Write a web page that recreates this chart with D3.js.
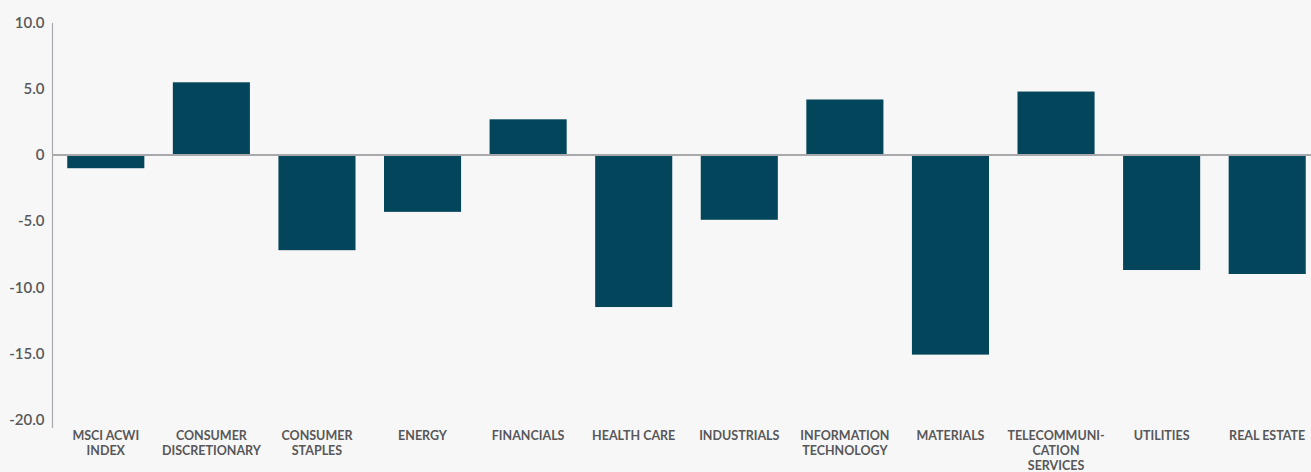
<!DOCTYPE html>
<html>
<head>
<meta charset="utf-8">
<script src="https://cdn.jsdelivr.net/npm/d3@7"></script>
<style>
  html, body { margin: 0; padding: 0; background: #f7f7f7; }
  svg { display: block; }
</style>
</head>
<body>
<svg id="chart" width="1311" height="472"></svg>
<script>
const categories = [
  ["MSCI ACWI", "INDEX"],
  ["CONSUMER", "DISCRETIONARY"],
  ["CONSUMER", "STAPLES"],
  ["ENERGY"],
  ["FINANCIALS"],
  ["HEALTH CARE"],
  ["INDUSTRIALS"],
  ["INFORMATION", "TECHNOLOGY"],
  ["MATERIALS"],
  ["TELECOMMUNI-", "CATION", "SERVICES"],
  ["UTILITIES"],
  ["REAL ESTATE"]
];
const values = [-1.0, 5.5, -7.2, -4.3, 2.7, -11.5, -4.9, 4.2, -15.1, 4.8, -8.7, -9.0];
const yTicks = [10, 5, 0, -5, -10, -15, -20];
const yTickLabels = ["10.0", "5.0", "0", "-5.0", "-10.0", "-15.0", "-20.0"];

const svg = d3.select("#chart");
const W = 1311, H = 472;
svg.append("rect").attr("width", W).attr("height", H).attr("fill", "#f7f7f7");

const keys = categories.map((c, i) => "c" + i);
const x = d3.scaleBand().domain(keys).range([53, 1320]).paddingInner(0.27).paddingOuter(0.135);
const y = d3.scaleLinear().domain([-20, 10]).range([419.4, 22.8]);

const barColor = "#03455a";
const axisColor = "#a9a9ad";
const textColor = "#58585a";

// bars
svg.append("g").selectAll("rect").data(values).join("rect")
  .attr("x", (d, i) => x(keys[i]))
  .attr("width", x.bandwidth())
  .attr("y", d => Math.min(y(d), y(0)))
  .attr("height", d => Math.abs(y(d) - y(0)))
  .attr("fill", barColor);

// zero line
svg.append("line")
  .attr("x1", 53).attr("x2", W)
  .attr("y1", y(0)).attr("y2", y(0))
  .attr("stroke", axisColor).attr("stroke-width", 2);

// y axis
const yAxis = d3.axisLeft(y).tickValues(yTicks).tickSize(0).tickPadding(8)
  .tickFormat((d, i) => yTickLabels[i]);
const gy = svg.append("g").attr("transform", "translate(52.5,0)").call(yAxis);
gy.select(".domain").remove();
gy.selectAll("text")
  .attr("fill", textColor)
  .attr("font-family", "Lato, 'Open Sans', sans-serif")
  .attr("font-size", 15)
  .attr("font-weight", 600);
svg.append("line")
  .attr("x1", 52.5).attr("x2", 52.5)
  .attr("y1", 23).attr("y2", 428)
  .attr("stroke", axisColor).attr("stroke-width", 1.2);

// x labels
const gx = svg.append("g");
categories.forEach((lines, i) => {
  const cx = x(keys[i]) + x.bandwidth() / 2;
  const t = gx.append("text")
    .attr("x", cx).attr("y", 440)
    .attr("text-anchor", "middle")
    .attr("fill", textColor)
    .attr("font-family", "Lato, 'Open Sans', sans-serif")
    .attr("font-size", 12.5)
    .attr("font-weight", 700);
  lines.forEach((ln, j) => {
    t.append("tspan").attr("x", cx).attr("dy", j === 0 ? 0 : 15).text(ln);
  });
});
</script>
</body>
</html>
